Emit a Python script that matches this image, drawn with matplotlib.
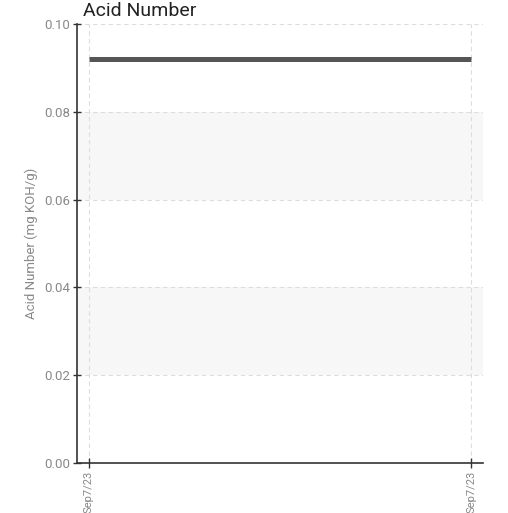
import matplotlib
matplotlib.use('Agg')
import matplotlib.pyplot as plt
import numpy as np

# Dati del grafico
etichette_x = ['Sep7/23', 'Sep7/23']
valori = [0.092, 0.092]
bande = [(0.02, 0.04), (0.06, 0.08)]
tick_y = [0.00, 0.02, 0.04, 0.06, 0.08, 0.10]

plt.rcParams['font.family'] = ['Roboto', 'DejaVu Sans']

fig = plt.figure(figsize=(5.08, 5.13), dpi=100)
ax = fig.add_axes([77 / 508, 50 / 513, 406 / 508, 439 / 513])

x = np.arange(len(valori))
ax.set_xlim(-0.0314, 1.0314)
ax.set_ylim(0, 0.10)

# Bande alternate
for lo, hi in bande:
    ax.axhspan(lo, hi, color='#f7f7f7', zorder=0, lw=0)

# Griglia
ax.grid(True, color='#dddddd', linestyle=(0, (4, 3)), linewidth=0.8, zorder=1)

ax.plot(x, valori, color='#555555', linewidth=3.6, zorder=3, solid_capstyle='butt')

ax.set_xticks(x)
ax.set_xticklabels(etichette_x, rotation=90, color='#888888', fontsize=8)
ax.set_yticks(tick_y)
ax.set_yticklabels([f'{v:.2f}' for v in tick_y], color='#888888', fontsize=9.5)
ax.tick_params(axis='x', direction='inout', length=7, width=1, color='#333333', pad=2)
ax.tick_params(axis='y', direction='inout', length=6, width=1, color='#333333', pad=2)

for lato in ['top', 'right']:
    ax.spines[lato].set_visible(False)
for lato in ['left', 'bottom']:
    ax.spines[lato].set_color('#333333')
    ax.spines[lato].set_linewidth(1.2)

ax.set_ylabel('Acid Number (mg KOH/g)', color='#888888', fontsize=9.5, labelpad=4)

fig.text(83 / 508, 1 - 16 / 513, 'Acid Number', fontsize=14, color='#222222',
         ha='left', va='baseline')

fig.savefig('out.png', dpi=100)
